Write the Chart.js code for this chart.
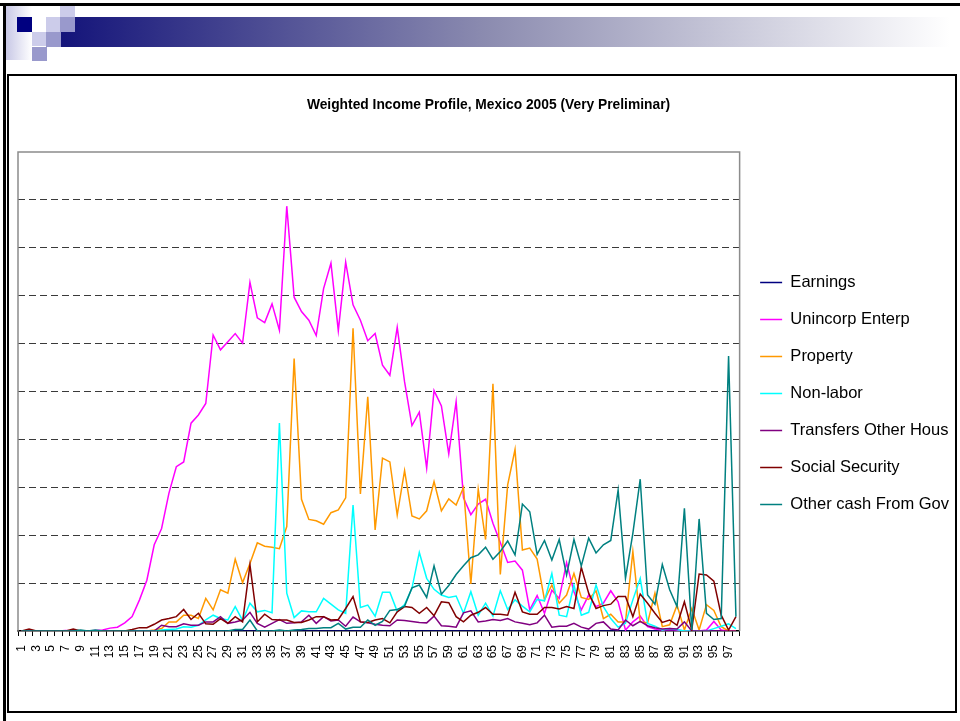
<!DOCTYPE html>
<html>
<head>
<meta charset="utf-8">
<title>Weighted Income Profile, Mexico 2005</title>
<script src="https://cdn.jsdelivr.net/npm/chart.js@4.4.1/dist/chart.umd.min.js"></script>
<style>
  html, body { margin: 0; padding: 0; background: #fff; }
  body { width: 960px; height: 721px; position: relative; overflow: hidden; }
  .abs { position: absolute; }
  #topline { left: 0; top: 3px; width: 960px; height: 3px; background: #000; }
  #leftline { left: 3px; top: 3px; width: 3px; height: 718px; background: #000; }
  #fade { left: 6px; top: 6px; width: 26px; height: 54px; background: linear-gradient(to right, #c8c8e6, #ffffff); }
  #banner { left: 61px; top: 17px; width: 889px; height: 30px; background: linear-gradient(to right, #14147a, #8c8cb0 48%, #ffffff); }
  .navy { background: #000080; }
  .light { background: #ccccea; }
  .mid { background: #9999cc; }
  #box { left: 7px; top: 74px; width: 946px; height: 635px; border: 2px solid #000; }
  #wrap { left: 8px; top: 76px; width: 952px; height: 636px; }
</style>
</head>
<body>
<div id="topline" class="abs"></div>
<div id="leftline" class="abs"></div>
<div id="fade" class="abs"></div>
<div id="banner" class="abs"></div>
<div class="abs navy" style="left:17px;top:17px;width:15px;height:15px"></div>
<div class="abs light" style="left:32px;top:32px;width:14px;height:14px"></div>
<div class="abs light" style="left:46px;top:17px;width:14px;height:15px"></div>
<div class="abs light" style="left:60px;top:6px;width:15px;height:11px"></div>
<div class="abs mid" style="left:60px;top:17px;width:15px;height:15px"></div>
<div class="abs mid" style="left:46px;top:32px;width:15px;height:15px"></div>
<div class="abs mid" style="left:32px;top:47px;width:15px;height:14px"></div>
<div id="box" class="abs"></div>
<div id="wrap" class="abs"><canvas id="chart" width="952" height="636"></canvas></div>
<script>
// age categories
const ages = [1, 2, 3, 4, 5, 6, 7, 8, 9, 10, 11, 12, 13, 14, 15, 16, 17, 18, 19, 20,
  21, 22, 23, 24, 25, 26, 27, 28, 29, 30, 31, 32, 33, 34, 35, 36, 37, 38, 39, 40,
  41, 42, 43, 44, 45, 46, 47, 48, 49, 50, 51, 52, 53, 54, 55, 56, 57, 58, 59, 60,
  61, 62, 63, 64, 65, 66, 67, 68, 69, 70, 71, 72, 73, 74, 75, 76, 77, 78, 79, 80,
  81, 82, 83, 84, 85, 86, 87, 88, 89, 90, 91, 92, 93, 94, 95, 96, 97, 98];

const earnings = [0, 0, 0, 0, 0, 0, 0, 0, 0, 0, 0, 0, 0, 0, 0, 0, 0, 0, 0, 0,
  0, 0, 0, 0, 0, 0, 0, 0, 0, 0, 0, 0, 0, 0, 0, 0, 0, 0, 0, 0,
  0, 0, 0, 0, 0, 0, 0, 0, 0, 0, 0, 0, 0, 0, 0, 0, 0, 0, 0, 0,
  0, 0, 0, 0, 0, 0, 0, 0, 0, 0, 0, 0, 0, 0, 0, 0, 0, 0, 0, 0,
  0, 0, 0, 0, 0, 0, 0, 0, 0, 0, 0, 0, 0, 0, 0, 0, 0, 0];

const unincorp = [0, 0.01, 0, 0, 0, 0, 0.01, 0, 0, 0, 0.01, 0.02, 0.06, 0.08, 0.17, 0.30, 0.65, 1.06, 1.80, 2.14,
  2.88, 3.43, 3.53, 4.34, 4.51, 4.75, 6.18, 5.87, 6.04, 6.21, 6.01, 7.28, 6.54, 6.44, 6.83, 6.28, 8.87, 6.97, 6.67, 6.49,
  6.17, 7.15, 7.68, 6.27, 7.70, 6.81, 6.49, 6.06, 6.21, 5.55, 5.34, 6.34, 5.20, 4.29, 4.57, 3.40, 5.02, 4.70, 3.70, 4.79,
  2.78, 2.43, 2.65, 2.75, 2.25, 1.85, 1.43, 1.46, 1.27, 0.44, 0.74, 0.37, 0.85, 0.68, 1.43, 0.82, 0.44, 0.75, 0.51, 0.58,
  0.84, 0.61, 0.02, 0.19, 0.31, 0.09, 0.04, 0.02, 0.03, 0.02, 0, 0, 0, 0.02, 0.20, 0.02, 0, 0];

const property = [0, 0, 0, 0, 0, 0, 0, 0, 0, 0, 0, 0, 0, 0, 0, 0, 0, 0, 0.02, 0.05,
  0.19, 0.19, 0.33, 0.33, 0.26, 0.68, 0.44, 0.86, 0.79, 1.50, 1.01, 1.41, 1.84, 1.77, 1.75, 1.72, 2.18, 5.69, 2.75, 2.33,
  2.30, 2.23, 2.47, 2.53, 2.78, 6.32, 2.86, 4.89, 2.11, 3.61, 3.53, 2.42, 3.35, 2.40, 2.34, 2.51, 3.12, 2.51, 2.76, 2.63,
  3.00, 0.98, 2.96, 1.91, 5.16, 1.18, 3.05, 3.79, 1.69, 1.73, 1.50, 0.65, 0.96, 0.58, 0.75, 1.20, 0.70, 0.66, 0.84, 0.26,
  0.35, 0.19, 0.19, 1.66, 0.19, 0.17, 0.79, 0.09, 0.13, 0.54, 0.02, 0.47, 0.02, 0.55, 0.43, 0.09, 0, 0];

const nonLabor = [0, 0, 0, 0, 0, 0, 0, 0, 0, 0, 0, 0, 0, 0, 0, 0, 0, 0, 0, 0.02,
  0.03, 0.04, 0.09, 0.08, 0.12, 0.23, 0.33, 0.26, 0.23, 0.51, 0.22, 0.58, 0.40, 0.43, 0.38, 4.34, 0.79, 0.28, 0.42, 0.40,
  0.40, 0.68, 0.56, 0.44, 0.37, 2.63, 0.49, 0.54, 0.31, 0.81, 0.81, 0.41, 0.55, 0.89, 1.64, 1.10, 0.87, 0.75, 0.70, 0.73,
  0.37, 0.82, 0.33, 0.58, 0.31, 0.84, 0.45, 0.65, 0.52, 0.40, 0.66, 0.63, 1.20, 0.33, 0.30, 0.96, 0.33, 0.39, 0.96, 0.51,
  0.26, 0.08, 0.16, 0.65, 1.10, 0.16, 0.10, 0.02, 0.05, 0.03, 0, 0, 0, 0, 0.05, 0.10, 0.15, 0.05];

const transfers = [0, 0, 0, 0, 0, 0, 0, 0, 0, 0, 0, 0, 0, 0, 0, 0, 0, 0, 0, 0.12,
  0.09, 0.09, 0.15, 0.12, 0.12, 0.19, 0.19, 0.30, 0.16, 0.19, 0.23, 0.39, 0.16, 0.08, 0.16, 0.24, 0.16, 0.17, 0.19, 0.33,
  0.16, 0.30, 0.21, 0.23, 0.10, 0.29, 0.19, 0.17, 0.14, 0.12, 0.11, 0.23, 0.22, 0.20, 0.18, 0.17, 0.31, 0.11, 0.10, 0.08,
  0.38, 0.42, 0.19, 0.21, 0.24, 0.22, 0.26, 0.19, 0.16, 0.13, 0.17, 0.33, 0.08, 0.10, 0.10, 0.16, 0.08, 0.04, 0.16, 0.19,
  0.04, 0.02, 0.23, 0.11, 0.20, 0.11, 0.07, 0.04, 0.05, 0.04, 0.19, 0, 0, 0, 0, 0, 0, 0];

const socialSecurity = [0, 0.04, 0, 0, 0, 0, 0, 0.04, 0, 0, 0, 0, 0, 0, 0, 0.03, 0.07, 0.07, 0.14, 0.23,
  0.26, 0.30, 0.45, 0.24, 0.37, 0.15, 0.14, 0.26, 0.16, 0.30, 0.19, 1.38, 0.19, 0.35, 0.24, 0.23, 0.23, 0.18, 0.18, 0.23,
  0.30, 0.30, 0.23, 0.24, 0.47, 0.72, 0.19, 0.18, 0.23, 0.26, 0.17, 0.40, 0.51, 0.49, 0.37, 0.49, 0.32, 0.61, 0.59, 0.30,
  0.19, 0.33, 0.39, 0.49, 0.35, 0.35, 0.33, 0.81, 0.40, 0.35, 0.35, 0.49, 0.49, 0.46, 0.51, 0.47, 1.33, 0.79, 0.47, 0.53,
  0.56, 0.72, 0.72, 0.30, 0.77, 0.58, 0.37, 0.18, 0.23, 0.12, 0.61, 0.02, 1.19, 1.17, 1.04, 0.33, 0.02, 0.30];

const otherCashGov = [0, 0, 0, 0, 0, 0, 0, 0, 0.02, 0, 0.02, 0, 0, 0, 0, 0, 0, 0, 0, 0,
  0, 0, 0, 0, 0, 0, 0, 0, 0, 0.03, 0.03, 0.23, 0, 0, 0, 0.02, 0, 0.02, 0.03, 0.05,
  0.05, 0.07, 0.07, 0.16, 0.04, 0.08, 0.08, 0.23, 0.12, 0.20, 0.43, 0.45, 0.52, 0.90, 0.96, 0.70, 1.36, 0.77, 0.95, 1.18,
  1.36, 1.53, 1.59, 1.75, 1.50, 1.66, 1.88, 1.59, 2.65, 2.49, 1.60, 1.89, 1.48, 1.91, 1.17, 1.91, 1.36, 1.94, 1.63, 1.80,
  1.89, 2.94, 1.10, 2.04, 3.17, 0.75, 0.56, 1.39, 0.86, 0.51, 2.56, 0.02, 2.34, 0.37, 0.24, 0.26, 5.74, 0.30];

const seriesNames = ['Earnings', 'Unincorp Enterp', 'Property', 'Non-labor',
  'Transfers Other Hous', 'Social Security', 'Other cash From Gov'];
const seriesColors = ['#000080', '#ff00ff', '#ff9900', '#00ffff', '#800080', '#800000', '#008080'];
const seriesValues = [earnings, unincorp, property, nonLabor, transfers, socialSecurity, otherCashGov];

const sans = "'Liberation Sans', Arial, sans-serif";

// grey frame on the left, top and right of the plot area (bottom is the x axis)
const plotFrame = {
  id: 'plotFrame',
  beforeDatasetsDraw(chart) {
    const { ctx, chartArea: a } = chart;
    ctx.save();
    ctx.strokeStyle = '#8c8c8c';
    ctx.lineWidth = 1.5;
    ctx.beginPath();
    ctx.moveTo(a.left, a.bottom);
    ctx.lineTo(a.left, a.top);
    ctx.lineTo(a.right, a.top);
    ctx.lineTo(a.right, a.bottom);
    ctx.stroke();
    ctx.restore();
  }
};

new Chart(document.getElementById('chart'), {
  type: 'line',
  data: {
    labels: ages,
    datasets: seriesNames.map((name, i) => ({
      label: name,
      data: seriesValues[i],
      borderColor: seriesColors[i],
      backgroundColor: seriesColors[i],
      borderWidth: 1.5,
      pointRadius: 0,
      tension: 0,
      fill: false,
      order: seriesNames.length - 1 - i   // later series drawn on top, like Excel
    }))
  },
  options: {
    responsive: false,
    animation: false,
    layout: { padding: { left: 10, right: 1, top: 0, bottom: 1 } },
    plugins: {
      title: {
        display: true,
        text: 'Weighted Income Profile, Mexico 2005 (Very Preliminar)',
        color: '#000',
        font: { family: sans, size: 13.8, weight: 'bold' },
        padding: { top: 21, bottom: 38.5 }
      },
      legend: {
        position: 'right',
        labels: {
          usePointStyle: true,
          pointStyle: 'line',
          pointStyleWidth: 22,
          color: '#000',
          padding: 20.5,
          font: { family: sans, size: 16.5 },
          sort: (a, b) => a.datasetIndex - b.datasetIndex
        }
      },
      tooltip: { enabled: false }
    },
    scales: {
      x: {
        offset: true,
        grid: { offset: true, drawOnChartArea: false, drawTicks: true, tickLength: 5, color: '#000' },
        border: { color: '#000', width: 1.5 },
        afterFit: (scale) => { scale.height = 80; },
        ticks: {
          autoSkip: false,
          minRotation: 90,
          maxRotation: 90,
          padding: 9,
          color: '#000',
          font: { family: sans, size: 12 },
          callback: (value, index) => (index % 2 === 0 ? ages[index] : '')
        }
      },
      y: {
        min: 0,
        max: 10,
        ticks: { display: false, stepSize: 1 },
        grid: {
          drawTicks: false,
          lineWidth: 1,
          color: (c) => (c.tick && (c.tick.value === 0 || c.tick.value === 10) ? 'rgba(0,0,0,0)' : '#3a3a3a')
        },
        border: { display: false, dash: [7, 4] }
      }
    }
  },
  plugins: [plotFrame]
});
</script>
</body>
</html>
